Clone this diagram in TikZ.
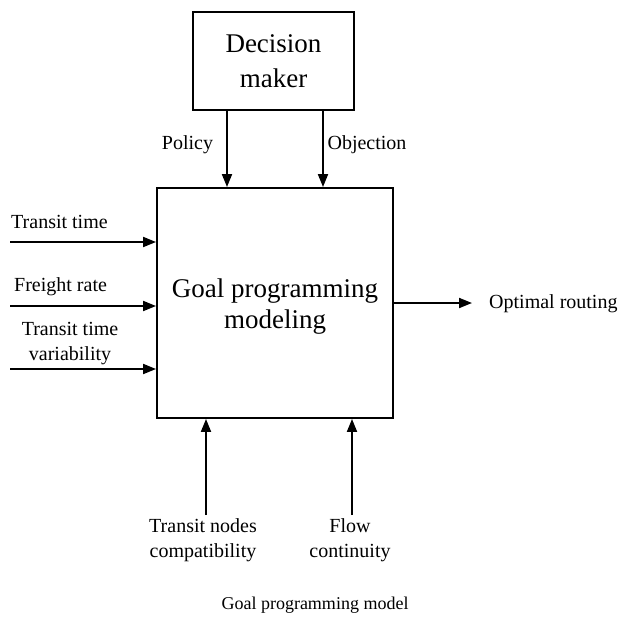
\documentclass[tikz,border=0pt]{standalone}
\usepackage{fontspec}
\setmainfont{Liberation Serif}
\usetikzlibrary{arrows.meta}
\begin{document}
\begin{tikzpicture}[x=1pt,y=-1pt,
  box/.style={draw, line width=1.9pt, align=center, font=\fontsize{27}{35}\selectfont},
  arr/.style={line width=1.9pt, -{Triangle[length=13pt,width=10pt]}},
  lbl/.style={inner sep=0pt, align=center, font=\fontsize{20}{25}\selectfont}]
\useasboundingbox[fill=white] (0,0) rectangle (625,632);
\node[box, minimum width=161pt, minimum height=98pt] (dm) at (273.5,61) {Decision\\maker};
\node[box, minimum width=236pt, minimum height=230pt] (gp) at (275,303) {};
\node[inner sep=0pt, align=center, font=\fontsize{27}{31}\selectfont] (gpt) at (275,306.5) {Goal programming\\modeling};
% decision maker outputs
\draw[arr] ([xshift=-46.5pt]dm.south) -- ([xshift=-46.5pt]dm.south |- gp.north);
\draw[arr] ([xshift=49.5pt]dm.south) -- ([xshift=49.5pt]dm.south |- gp.north);
\node[lbl] (pol) at (187.5,145) {Policy};
\node[lbl] (obj) at (367,145) {Objection};
% left inputs
\coordinate (in1) at (10,242);
\coordinate (in2) at (10,306);
\coordinate (in3) at (10,369);
\draw[arr] (in1) -- (in1 -| gp.west);
\draw[arr] (in2) -- (in2 -| gp.west);
\draw[arr] (in3) -- (in3 -| gp.west);
\node[lbl, anchor=west] (tt) at (11,222) {Transit time};
\node[lbl, anchor=west] (fr) at (14,287) {Freight rate};
\node[lbl] (ttv) at (70,344) {Transit time\\variability};
% output
\coordinate (out) at (472,303);
\draw[arr] (gp.east |- out) -- (out);
\node[lbl, anchor=west] (opt) at (489,304) {Optimal routing};
% bottom inputs
\coordinate (b1) at (206,515);
\coordinate (b2) at (352,515);
\draw[arr] (b1) -- (b1 |- gp.south);
\draw[arr] (b2) -- (b2 |- gp.south);
\node[lbl] (tnc) at (203,540) {Transit nodes\\compatibility};
\node[lbl] (fc) at (350,540) {Flow\\continuity};
% caption
\node[lbl, font=\fontsize{18}{22}\selectfont] (cap) at (315,605) {Goal programming model};
\end{tikzpicture}
\end{document}
